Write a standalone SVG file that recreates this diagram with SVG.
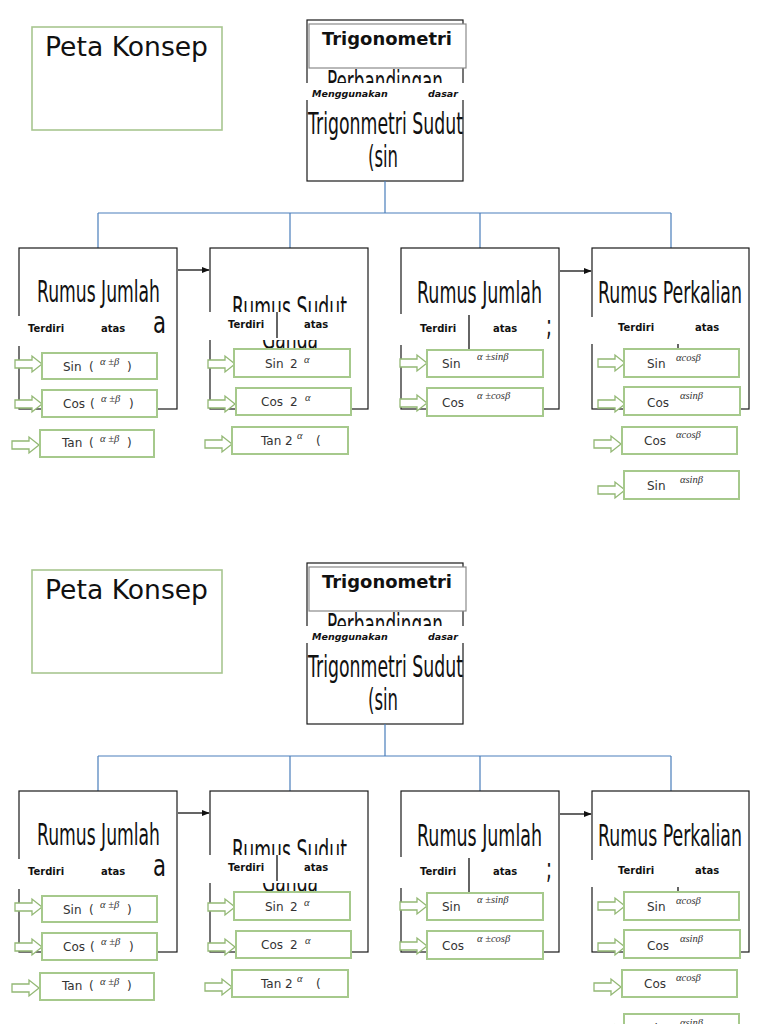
<svg xmlns="http://www.w3.org/2000/svg" xmlns:xlink="http://www.w3.org/1999/xlink" width="768" height="1024" viewBox="0 0 768 1024">
<style>
.bg{fill:#fff}
.box{fill:#fff;stroke:#1a1a1a;stroke-width:1.2}
.tbox{fill:#fff;stroke:#8a8a8a;stroke-width:1.2}
.gbox{fill:#fff;stroke:#a8c690;stroke-width:1.6}
.item{fill:#fff;stroke:#a6c98c;stroke-width:2}
.harrow{fill:#fff;stroke:#93b874;stroke-width:1.3}
.big{font-family:"DejaVu Sans",sans-serif;font-size:30px;fill:#111}
.title{font-family:"DejaVu Sans",sans-serif;font-size:26px;fill:#111}
.trig{font-family:"DejaVu Sans",sans-serif;font-weight:bold;font-size:17px;fill:#111}
.lbl{font-family:"DejaVu Sans",sans-serif;font-weight:bold;font-style:italic;font-size:9.5px;fill:#111}
.lb2{font-family:"DejaVu Sans",sans-serif;font-weight:bold;font-size:10px;fill:#111}
.itxt{font-family:"DejaVu Sans",sans-serif;font-size:12px;fill:#333}
.sup{font-family:"Liberation Serif",serif;font-style:italic;font-size:10.5px;fill:#333}
.conn{stroke:#4a7ebb;stroke-width:1.2;fill:none}
.blk{stroke:#111;stroke-width:1.3;fill:none}
.band{fill:#fff}
</style>
<defs>
<marker id="ah" viewBox="0 0 10 10" refX="9" refY="5" markerWidth="6" markerHeight="6" orient="auto"><path d="M0,1 L10,5 L0,9 Z" fill="#111"/></marker>
<path id="ha" class="harrow" d="M0,-4 H17 V-8 L27,0 L17,8 V4 H0 Z"/>
</defs>
<rect class="bg" x="0" y="0" width="768" height="1024"/>

<!-- ================= PAGE 1 ================= -->
<g id="page1">
<g id="peta-konsep">
<rect class="gbox" x="32" y="27" width="190" height="103"/>
<text class="title" x="45" y="56" textLength="163" lengthAdjust="spacingAndGlyphs">Peta Konsep</text>
</g>
<g id="main">
<rect class="box" x="307" y="20" width="156" height="161"/>
<text class="big" x="327" y="92" textLength="116" lengthAdjust="spacingAndGlyphs">Perbandingan</text>
<text class="big" x="308" y="134" textLength="155" lengthAdjust="spacingAndGlyphs">Trigonmetri Sudut</text>
<text class="big" x="368" y="167" textLength="30" lengthAdjust="spacingAndGlyphs">(sin</text>
<rect class="band" x="304" y="83" width="168" height="17"/>
<text class="lbl" x="312" y="97">Menggunakan</text>
<text class="lbl" x="428" y="97">dasar</text>
</g>
<g id="trigonometri">
<rect class="tbox" x="309" y="24" width="157" height="44"/>
<text class="trig" x="322" y="45" textLength="130" lengthAdjust="spacingAndGlyphs">Trigonometri</text>
</g>
<g id="connectors">
<path class="conn" d="M385,181 V213 M98,213 H671 M98,213 V248 M290,213 V248 M480,213 V248 M671,213 V248"/>
<line class="blk" x1="178" y1="270" x2="209" y2="270" marker-end="url(#ah)"/>
<line class="blk" x1="560" y1="271" x2="591" y2="271" marker-end="url(#ah)"/>
</g>
<g id="box1">
<rect class="box" x="19" y="248" width="158" height="161"/>
<text class="big" x="37" y="302" textLength="123" lengthAdjust="spacingAndGlyphs">Rumus Jumlah</text>
<text class="big" x="153" y="333" textLength="13" lengthAdjust="spacingAndGlyphs">a</text>
<rect class="band" x="8" y="316" width="143" height="30"/>
<text class="lb2" x="28" y="332">Terdiri</text>
<text class="lb2" x="101" y="332">atas</text>
</g>
<g id="box2">
<rect class="box" x="210" y="248" width="158" height="161"/>
<text class="big" x="232" y="318" textLength="115" lengthAdjust="spacingAndGlyphs">Rumus Sudut</text>
<text class="big" x="262" y="349" textLength="56" lengthAdjust="spacingAndGlyphs">Ganda</text>
<rect class="band" x="200" y="312" width="155" height="28"/>
<line class="blk" x1="277" y1="312" x2="277" y2="338"/>
<text class="lb2" x="228" y="328">Terdiri</text>
<text class="lb2" x="304" y="328">atas</text>
</g>
<g id="box3">
<rect class="box" x="401" y="248" width="158" height="161"/>
<text class="big" x="417" y="303" textLength="125" lengthAdjust="spacingAndGlyphs">Rumus Jumlah</text>
<text class="big" x="546" y="335" textLength="6" lengthAdjust="spacingAndGlyphs">;</text>
<rect class="band" x="396" y="314" width="150" height="31"/>
<line class="blk" x1="469" y1="315" x2="469" y2="350"/>
<text class="lb2" x="420" y="332">Terdiri</text>
<text class="lb2" x="493" y="332">atas</text>
</g>
<g id="box4">
<rect class="box" x="592" y="248" width="157" height="161"/>
<text class="big" x="598" y="303" textLength="144" lengthAdjust="spacingAndGlyphs">Rumus Perkalian</text>
<rect class="band" x="588" y="317" width="155" height="27"/>
<line class="blk" x1="678" y1="344" x2="678" y2="350"/>
<text class="lb2" x="618" y="331">Terdiri</text>
<text class="lb2" x="695" y="331">atas</text>
</g>
<g id="items1">
<g id="i1a"><use href="#ha" x="15" y="364"/><rect class="item" x="42" y="353" width="115" height="26"/><text class="itxt" x="63" y="371">Sin</text><text class="itxt" x="89" y="371">(</text><text class="sup" x="100" y="365">α ±β</text><text class="itxt" x="127" y="371">)</text></g>
<g id="i1b"><use href="#ha" x="15" y="404"/><rect class="item" x="42" y="390" width="115" height="27"/><text class="itxt" x="63" y="408">Cos</text><text class="itxt" x="90" y="408">(</text><text class="sup" x="101" y="402">α ±β</text><text class="itxt" x="129" y="408">)</text></g>
<g id="i1c"><use href="#ha" x="12" y="445"/><rect class="item" x="40" y="430" width="114" height="27"/><text class="itxt" x="62" y="447">Tan</text><text class="itxt" x="89" y="447">(</text><text class="sup" x="100" y="442">α ±β</text><text class="itxt" x="127" y="447">)</text></g>
</g>
<g id="items2">
<g id="i2a"><use href="#ha" x="208" y="364"/><rect class="item" x="234" y="349" width="116" height="28"/><text class="itxt" x="265" y="368">Sin</text><text class="itxt" x="290" y="368">2</text><text class="sup" x="304" y="363">α</text></g>
<g id="i2b"><use href="#ha" x="208" y="404"/><rect class="item" x="236" y="388" width="115" height="27"/><text class="itxt" x="261" y="406">Cos</text><text class="itxt" x="290" y="406">2</text><text class="sup" x="305" y="401">α</text></g>
<g id="i2c"><use href="#ha" x="205" y="444"/><rect class="item" x="232" y="427" width="116" height="27"/><text class="itxt" x="261" y="445">Tan 2</text><text class="sup" x="297" y="439">α</text><text class="itxt" x="316" y="445">(</text></g>
</g>
<g id="items3">
<g id="i3a"><use href="#ha" x="400" y="363"/><rect class="item" x="427" y="350" width="116" height="27"/><text class="itxt" x="442" y="368">Sin</text><text class="sup" x="477" y="360">α ±sinβ</text></g>
<g id="i3b"><use href="#ha" x="400" y="403"/><rect class="item" x="427" y="388" width="116" height="28"/><text class="itxt" x="442" y="407">Cos</text><text class="sup" x="477" y="399">α ±cosβ</text></g>
</g>
<g id="items4">
<g id="i4a"><use href="#ha" x="598" y="363"/><rect class="item" x="624" y="349" width="115" height="28"/><text class="itxt" x="647" y="368">Sin</text><text class="sup" x="676" y="361">αcosβ</text></g>
<g id="i4b"><use href="#ha" x="598" y="404"/><rect class="item" x="624" y="387" width="116" height="28"/><text class="itxt" x="647" y="407">Cos</text><text class="sup" x="680" y="399">αsinβ</text></g>
<g id="i4c"><use href="#ha" x="594" y="444"/><rect class="item" x="622" y="427" width="115" height="27"/><text class="itxt" x="644" y="445">Cos</text><text class="sup" x="676" y="438">αcosβ</text></g>
<g id="i4d"><use href="#ha" x="598" y="490"/><rect class="item" x="624" y="471" width="115" height="28"/><text class="itxt" x="647" y="490">Sin</text><text class="sup" x="680" y="483">αsinβ</text></g>
</g>
</g>

<!-- ================= PAGE 2 ================= -->
<g id="page2" transform="translate(0,543)">
<g id="peta-konsep-b">
<rect class="gbox" x="32" y="27" width="190" height="103"/>
<text class="title" x="45" y="56" textLength="163" lengthAdjust="spacingAndGlyphs">Peta Konsep</text>
</g>
<g id="main-b">
<rect class="box" x="307" y="20" width="156" height="161"/>
<text class="big" x="327" y="92" textLength="116" lengthAdjust="spacingAndGlyphs">Perbandingan</text>
<text class="big" x="308" y="134" textLength="155" lengthAdjust="spacingAndGlyphs">Trigonmetri Sudut</text>
<text class="big" x="368" y="167" textLength="30" lengthAdjust="spacingAndGlyphs">(sin</text>
<rect class="band" x="304" y="83" width="168" height="17"/>
<text class="lbl" x="312" y="97">Menggunakan</text>
<text class="lbl" x="428" y="97">dasar</text>
</g>
<g id="trigonometri-b">
<rect class="tbox" x="309" y="24" width="157" height="44"/>
<text class="trig" x="322" y="45" textLength="130" lengthAdjust="spacingAndGlyphs">Trigonometri</text>
</g>
<g id="connectors-b">
<path class="conn" d="M385,181 V213 M98,213 H671 M98,213 V248 M290,213 V248 M480,213 V248 M671,213 V248"/>
<line class="blk" x1="178" y1="270" x2="209" y2="270" marker-end="url(#ah)"/>
<line class="blk" x1="560" y1="271" x2="591" y2="271" marker-end="url(#ah)"/>
</g>
<g id="box1-b">
<rect class="box" x="19" y="248" width="158" height="161"/>
<text class="big" x="37" y="302" textLength="123" lengthAdjust="spacingAndGlyphs">Rumus Jumlah</text>
<text class="big" x="153" y="333" textLength="13" lengthAdjust="spacingAndGlyphs">a</text>
<rect class="band" x="8" y="316" width="143" height="30"/>
<text class="lb2" x="28" y="332">Terdiri</text>
<text class="lb2" x="101" y="332">atas</text>
</g>
<g id="box2-b">
<rect class="box" x="210" y="248" width="158" height="161"/>
<text class="big" x="232" y="318" textLength="115" lengthAdjust="spacingAndGlyphs">Rumus Sudut</text>
<text class="big" x="262" y="349" textLength="56" lengthAdjust="spacingAndGlyphs">Ganda</text>
<rect class="band" x="200" y="312" width="155" height="28"/>
<line class="blk" x1="277" y1="312" x2="277" y2="338"/>
<text class="lb2" x="228" y="328">Terdiri</text>
<text class="lb2" x="304" y="328">atas</text>
</g>
<g id="box3-b">
<rect class="box" x="401" y="248" width="158" height="161"/>
<text class="big" x="417" y="303" textLength="125" lengthAdjust="spacingAndGlyphs">Rumus Jumlah</text>
<text class="big" x="546" y="335" textLength="6" lengthAdjust="spacingAndGlyphs">;</text>
<rect class="band" x="396" y="314" width="150" height="31"/>
<line class="blk" x1="469" y1="315" x2="469" y2="350"/>
<text class="lb2" x="420" y="332">Terdiri</text>
<text class="lb2" x="493" y="332">atas</text>
</g>
<g id="box4-b">
<rect class="box" x="592" y="248" width="157" height="161"/>
<text class="big" x="598" y="303" textLength="144" lengthAdjust="spacingAndGlyphs">Rumus Perkalian</text>
<rect class="band" x="588" y="317" width="155" height="27"/>
<line class="blk" x1="678" y1="344" x2="678" y2="350"/>
<text class="lb2" x="618" y="331">Terdiri</text>
<text class="lb2" x="695" y="331">atas</text>
</g>
<g id="items1-b">
<g id="i1a-b"><use href="#ha" x="15" y="364"/><rect class="item" x="42" y="353" width="115" height="26"/><text class="itxt" x="63" y="371">Sin</text><text class="itxt" x="89" y="371">(</text><text class="sup" x="100" y="365">α ±β</text><text class="itxt" x="127" y="371">)</text></g>
<g id="i1b-b"><use href="#ha" x="15" y="404"/><rect class="item" x="42" y="390" width="115" height="27"/><text class="itxt" x="63" y="408">Cos</text><text class="itxt" x="90" y="408">(</text><text class="sup" x="101" y="402">α ±β</text><text class="itxt" x="129" y="408">)</text></g>
<g id="i1c-b"><use href="#ha" x="12" y="445"/><rect class="item" x="40" y="430" width="114" height="27"/><text class="itxt" x="62" y="447">Tan</text><text class="itxt" x="89" y="447">(</text><text class="sup" x="100" y="442">α ±β</text><text class="itxt" x="127" y="447">)</text></g>
</g>
<g id="items2-b">
<g id="i2a-b"><use href="#ha" x="208" y="364"/><rect class="item" x="234" y="349" width="116" height="28"/><text class="itxt" x="265" y="368">Sin</text><text class="itxt" x="290" y="368">2</text><text class="sup" x="304" y="363">α</text></g>
<g id="i2b-b"><use href="#ha" x="208" y="404"/><rect class="item" x="236" y="388" width="115" height="27"/><text class="itxt" x="261" y="406">Cos</text><text class="itxt" x="290" y="406">2</text><text class="sup" x="305" y="401">α</text></g>
<g id="i2c-b"><use href="#ha" x="205" y="444"/><rect class="item" x="232" y="427" width="116" height="27"/><text class="itxt" x="261" y="445">Tan 2</text><text class="sup" x="297" y="439">α</text><text class="itxt" x="316" y="445">(</text></g>
</g>
<g id="items3-b">
<g id="i3a-b"><use href="#ha" x="400" y="363"/><rect class="item" x="427" y="350" width="116" height="27"/><text class="itxt" x="442" y="368">Sin</text><text class="sup" x="477" y="360">α ±sinβ</text></g>
<g id="i3b-b"><use href="#ha" x="400" y="403"/><rect class="item" x="427" y="388" width="116" height="28"/><text class="itxt" x="442" y="407">Cos</text><text class="sup" x="477" y="399">α ±cosβ</text></g>
</g>
<g id="items4-b">
<g id="i4a-b"><use href="#ha" x="598" y="363"/><rect class="item" x="624" y="349" width="115" height="28"/><text class="itxt" x="647" y="368">Sin</text><text class="sup" x="676" y="361">αcosβ</text></g>
<g id="i4b-b"><use href="#ha" x="598" y="404"/><rect class="item" x="624" y="387" width="116" height="28"/><text class="itxt" x="647" y="407">Cos</text><text class="sup" x="680" y="399">αsinβ</text></g>
<g id="i4c-b"><use href="#ha" x="594" y="444"/><rect class="item" x="622" y="427" width="115" height="27"/><text class="itxt" x="644" y="445">Cos</text><text class="sup" x="676" y="438">αcosβ</text></g>
<g id="i4d-b"><use href="#ha" x="598" y="490"/><rect class="item" x="624" y="471" width="115" height="28"/><text class="itxt" x="647" y="490">Sin</text><text class="sup" x="680" y="483">αsinβ</text></g>
</g>
</g>
</svg>
